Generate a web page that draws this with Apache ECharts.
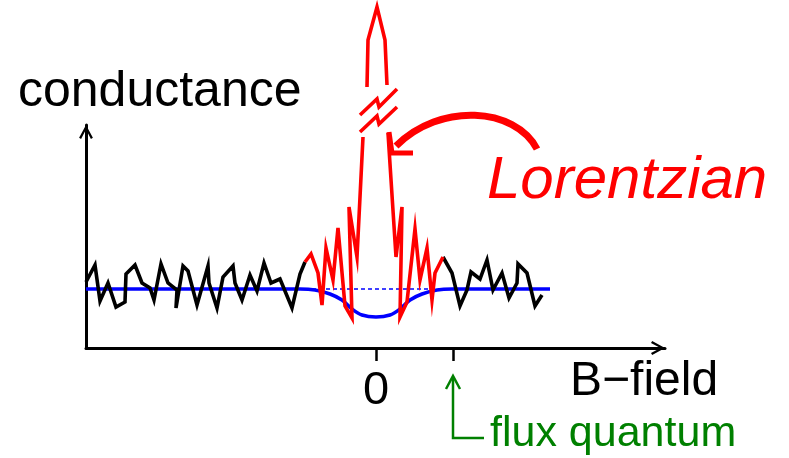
<!DOCTYPE html>
<html><head><meta charset="utf-8">
<script src="https://cdn.jsdelivr.net/npm/echarts@6/dist/echarts.min.js"></script>
<style>html,body{margin:0;padding:0;background:#fff}#c{width:789px;height:458px}</style>
</head><body><div id="c"></div>
<script>
// B-field (arbitrary units, 0 = zero field, 77 = one flux quantum), conductance (arbitrary units)
const noiseLeft = [[-290,66],[-281,83],[-276,47],[-268,65],[-260,41],[-251,46],[-250,74],[-241,83],[-234,65],[-226,60],[-222,48],[-215,84],[-208,65],[-199,58],[-200,40],[-193,82],[-188,77],[-179,43],[-168,82],[-167,65],[-159,40],[-153,71],[-143,82],[-141,65],[-134,48],[-126,73],[-119,57],[-112,85],[-105,65],[-96,69],[-84,40],[-76,74],[-71,86]];
const noiseRight = [[67,91],[76,75],[84,42],[91,58],[95,76],[104,69],[111,88],[117,58],[126,75],[133,50],[141,65],[142,84],[151,75],[159,42],[166,53]];
const lorentzLeft = [[-71,86],[-65,94],[-58,75],[-54,43],[-50,100],[-43,68],[-38,120],[-31,42],[-24,30],[-27,141],[-19,91],[-13,211]];
const lorentzTop = [[-9,261],[-8,308],[1,341],[9,308],[11,263]];
const lorentzRight = [[12,215],[20,91],[26,141],[24,31],[31,46],[39,119],[44,68],[51,100],[56,48],[59,75],[67,91]];
const averageCurve = [[-290,59],[-76,59],[-61,58],[-46,54],[-34,48],[-24,39],[-14,33],[0,31],[14,33],[24,39],[34,48],[46,54],[61,58],[76,59],[174,59]];
const backgroundLevel = [[-64,59],[64,59]];
const breakMark1 = [[-16,233],[1,249],[3,241],[21,259]];
const breakMark2 = [[-16,216],[1,232],[3,224],[21,241]];
const tickValues = [0, 77];
const labelValues = [0];

const FONT = "'Liberation Sans', Arial, Helvetica, sans-serif";
const chevron = 'path://M0,13 L7,0 L14,13 L12,14.2 L7,4.6 L2,14.2 Z';

const chart = echarts.init(document.getElementById('c'), null, {renderer:'canvas'});

function line(data, color, width, extra) {
  return Object.assign({
    type:'line', data:data, symbol:'none', silent:true, clip:false, animation:false,
    lineStyle:{color:color, width:width, join:'miter', cap:'butt'}
  }, extra || {});
}

chart.setOption({
  animation:false,
  backgroundColor:'#ffffff',
  grid:{left:86, top:125, right:124, bottom:110, containLabel:false},
  xAxis:{
    type:'value', min:-290, max:289,
    splitLine:{show:false},
    axisLine:{show:true, onZero:true, symbol:['none', chevron], symbolSize:[15,14], symbolOffset:[0,-7],
      lineStyle:{color:'#000', width:3}},
    axisTick:{show:true, customValues:tickValues, length:13, inside:false, lineStyle:{color:'#000', width:2.5}},
    axisLabel:{show:true, customValues:labelValues, margin:20, color:'#000', fontSize:47, fontFamily:FONT,
      formatter:function(v){return String(v);}}
  },
  yAxis:{
    type:'value', min:0, max:223,
    splitLine:{show:false},
    axisLine:{show:true, onZero:false, symbol:['none', chevron], symbolSize:[15,14], symbolOffset:[0,-7],
      lineStyle:{color:'#000', width:3}},
    axisTick:{show:false},
    axisLabel:{show:false}
  },
  series:[
    line(averageCurve, '#0000ff', 3.6, {smooth:0.35, z:2}),
    line(backgroundLevel, '#0000ff', 1.5, {z:2, lineStyle:{color:'#0000ff', width:1.6, type:[4,3]}}),
    line(noiseLeft, '#000000', 3.6, {z:3}),
    line(noiseRight, '#000000', 3.6, {z:3}),
    line(lorentzLeft, '#ff0000', 3.6, {z:4}),
    line(lorentzTop, '#ff0000', 3.6, {z:4}),
    line(lorentzRight, '#ff0000', 3.6, {z:4}),
    line(breakMark1, '#ff0000', 3.6, {z:4}),
    line(breakMark2, '#ff0000', 3.6, {z:4})
  ],
  graphic:[
    {type:'text', x:18, y:92, style:{text:'conductance', font:'50px '+FONT, fill:'#000', align:'left', verticalAlign:'middle'}},
    {type:'text', x:570, y:382, style:{text:'B\u2212field', font:'48px '+FONT, fill:'#000', align:'left', verticalAlign:'middle'}},
    {type:'text', x:487, y:181, style:{text:'Lorentzian', font:'italic 60px '+FONT, fill:'#ff0000', align:'left', verticalAlign:'middle'}},
    {type:'text', x:490, y:434, style:{text:'flux quantum', font:'43px '+FONT, fill:'#008000', align:'left', verticalAlign:'middle'}},
    {type:'bezierCurve', shape:{x1:537, y1:149, cpx1:515, cpy1:107, cpx2:440, cpy2:102, x2:396, y2:146},
      style:{stroke:'#ff0000', lineWidth:7, fill:null}},
    {type:'polyline', shape:{points:[[389,132],[392,153],[413,153]]}, style:{stroke:'#ff0000', lineWidth:5, fill:null, lineJoin:'miter'}},
    {type:'polyline', shape:{points:[[453,377],[453,438],[484,438]]}, style:{stroke:'#008000', lineWidth:2.5, fill:null}},
    {type:'polyline', shape:{points:[[446,389],[453,376],[460,389]]}, style:{stroke:'#008000', lineWidth:2.5, fill:null}}
  ]
});
</script></body></html>
